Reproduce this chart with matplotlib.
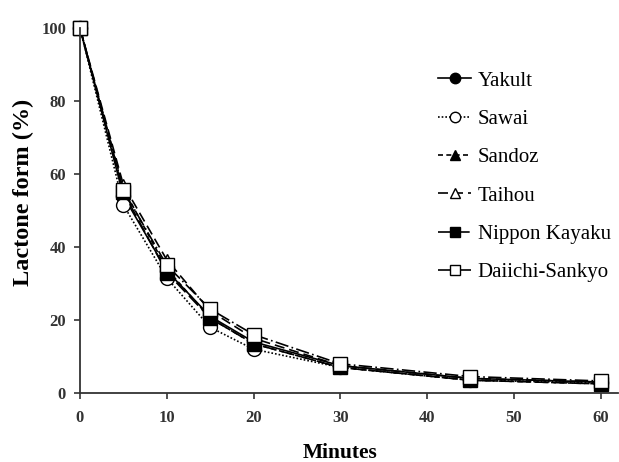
import matplotlib
matplotlib.use("Agg")
import matplotlib.pyplot as plt

# sampling times (minutes) and lactone form remaining (%)
minutes = [0, 5, 10, 15, 20, 30, 45, 60]
yakult = [100, 54, 33.5, 21, 14, 7.5, 4, 3]
sawai = [100, 51.5, 31.5, 18, 12, 7, 3.5, 2.8]
sandoz = [100, 56, 34, 20.5, 13.5, 7, 3.5, 2.5]
taihou = [100, 57, 36.5, 22.5, 15, 7.5, 4, 3]
nippon_kayaku = [100, 55, 33, 20.5, 13.5, 7, 3.5, 2.5]
daiichi_sankyo = [100, 55.5, 35, 23, 16, 8, 4.5, 3.3]

plt.rcParams['font.family'] = ['Liberation Serif', 'DejaVu Serif']

fig = plt.figure(figsize=(6.19, 4.62), dpi=100)
ax = fig.add_axes([80 / 619, 1 - 393 / 462, (618 - 80) / 619, (393 - 28) / 462])

series = [
    ('Yakult', yakult, '-', 'o', 'black'),
    ('Sawai', sawai, (0, (1, 1.2)), 'o', 'white'),
    ('Sandoz', sandoz, (0, (3, 2)), '^', 'black'),
    ('Taihou', taihou, (0, (6, 3)), '^', 'white'),
    ('Nippon Kayaku', nippon_kayaku, (0, (8, 3)), 's', 'black'),
    ('Daiichi-Sankyo', daiichi_sankyo, (0, (8, 2, 1, 2)), 's', 'white'),
]

for name, vals, ls, mk, fc in series:
    ax.plot(minutes, vals, linestyle=ls, color='black', lw=1.2,
            marker=mk, markersize=10 if mk != '^' else 9,
            markerfacecolor=fc, markeredgecolor='black', markeredgewidth=1.0,
            label=name, clip_on=False)

ax.set_xlim(0, 62)
ax.set_ylim(0, 100)
ax.set_xticks([0, 10, 20, 30, 40, 50, 60])
ax.set_yticks([0, 20, 40, 60, 80, 100])
for s in ['top', 'right']:
    ax.spines[s].set_visible(False)
for s in ['left', 'bottom']:
    ax.spines[s].set_linewidth(1.3)
    ax.spines[s].set_color('#333333')
ax.tick_params(direction='out', length=4, width=1.2, labelsize=12, colors='#333333')
ax.tick_params(axis='x', pad=8)
ax.tick_params(axis='y', pad=6)
for lab in ax.get_xticklabels() + ax.get_yticklabels():
    lab.set_fontweight('bold')

ax.set_xlabel('Minutes', fontsize=15.5, fontweight='bold', va='baseline')
ax.xaxis.set_label_coords(30 / 62, -0.178)
ax.set_ylabel('Lactone form (%)', fontsize=17.5, fontweight='bold')
ax.yaxis.set_label_coords(-0.085, 0.55)

ax.legend(loc='upper left', bbox_to_anchor=(0.65, 0.905), frameon=False,
          fontsize=15, handlelength=1.6, handletextpad=0.3, labelspacing=0.9,
          borderaxespad=0, markerscale=0.75)

fig.savefig('out.png', dpi=100)
